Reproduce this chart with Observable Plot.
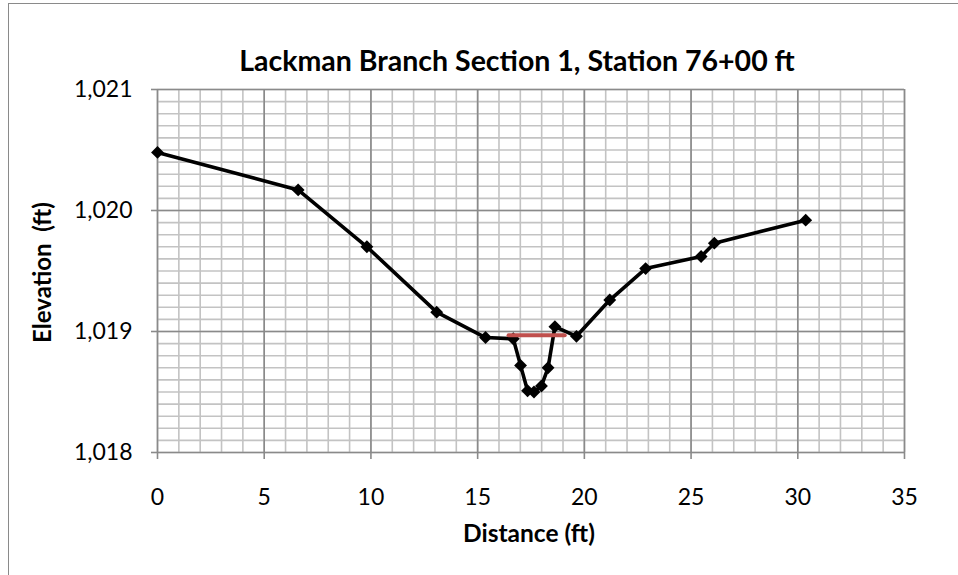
<!DOCTYPE html>
<html>
<head>
<meta charset="utf-8">
<script src="https://cdn.jsdelivr.net/npm/d3@7"></script>
<script src="https://cdn.jsdelivr.net/npm/@observablehq/plot@0.6"></script>
<style>
  html, body { margin: 0; padding: 0; background: #fff; }
  #wrap { position: relative; width: 958px; height: 575px; overflow: hidden; }
  #frame { position: absolute; left: 8px; top: 3px; width: 1000px; height: 1000px;
           border-left: 1.5px solid #8a8a8a; border-top: 1.5px solid #8a8a8a; pointer-events: none; }
  svg { display: block; }
</style>
</head>
<body>
<div id="wrap"><div id="frame"></div></div>
<script>
// Data
const distance = [0, 6.59, 9.81, 13.08, 15.37, 16.67, 17.01, 17.34, 17.64, 17.99, 18.30, 18.62, 19.63, 21.19, 22.87, 25.47, 26.09, 30.37];
const elevation = [1020.48, 1020.17, 1019.70, 1019.16, 1018.95, 1018.94, 1018.72, 1018.51, 1018.50, 1018.55, 1018.70, 1019.04, 1018.96, 1019.26, 1019.52, 1019.62, 1019.73, 1019.92];
const waterDistance = [16.45, 19.08];
const waterElevation = [1018.97, 1018.97];

const xTicks = [0, 5, 10, 15, 20, 25, 30, 35];
const yTicks = [1018, 1019, 1020, 1021];
const xMinor = d3.range(0, 35.001, 1);
const yMinor = d3.range(0, 31).map(i => 1018 + i / 10);

const title = "Lackman Branch Section 1, Station 76+00 ft";
const xLabel = "Distance (ft)";
const yLabel = "Elevation  (ft)";

const profile = distance.map((d, i) => ({x: d, y: elevation[i]}));
const water = waterDistance.map((d, i) => ({x: d, y: waterElevation[i]}));

const minorColor = "#c3c3c3";
const majorColor = "#8a8a8a";

const chart = Plot.plot({
  width: 958,
  height: 575,
  marginLeft: 157,
  marginRight: 54,
  marginTop: 89,
  marginBottom: 123,
  style: {fontFamily: "Lato, 'Open Sans', sans-serif", background: "transparent", color: "#000"},
  x: {domain: [0, 35]},
  y: {domain: [1018, 1021]},
  marks: [
    Plot.ruleX(xMinor, {stroke: minorColor, strokeWidth: 1.6}),
    Plot.ruleY(yMinor, {stroke: minorColor, strokeWidth: 1.6}),
    Plot.ruleX(xTicks, {stroke: majorColor, strokeWidth: 1.6}),
    Plot.ruleY(yTicks, {stroke: majorColor, strokeWidth: 1.6}),
    Plot.axisX({ticks: xTicks, tickSize: 7, tickPadding: 29, fontSize: 23, stroke: majorColor, strokeWidth: 1.6, label: null, tickFormat: d3.format("d")}),
    Plot.axisY({ticks: yTicks, tickSize: 6, tickPadding: 19, fontSize: 23, stroke: majorColor, strokeWidth: 1.6, label: null, tickFormat: d3.format(",")}),
    Plot.line(profile, {x: "x", y: "y", stroke: "#000", strokeWidth: 3.6}),
    Plot.dot(profile, {x: "x", y: "y", symbol: "diamond2", r: 5.8, fill: "#000", stroke: "none"}),
    Plot.line(water, {x: "x", y: "y", stroke: "#c0504d", strokeWidth: 4}),
    Plot.text([title], {frameAnchor: "top", dx: -14, dy: -38.7, fontSize: 28.5, fontWeight: "bold", fill: "#000"}),
    Plot.text([xLabel], {frameAnchor: "bottom", dx: -2, dy: 89.5, fontSize: 24.5, fontWeight: "bold", fill: "#000"}),
    Plot.text([yLabel], {frameAnchor: "left", textAnchor: "middle", dx: -114.5, dy: 1.5, rotate: -90, fontSize: 24, fontWeight: "bold", fill: "#000"})
  ]
});
document.getElementById("wrap").prepend(chart);
</script>
</body>
</html>
